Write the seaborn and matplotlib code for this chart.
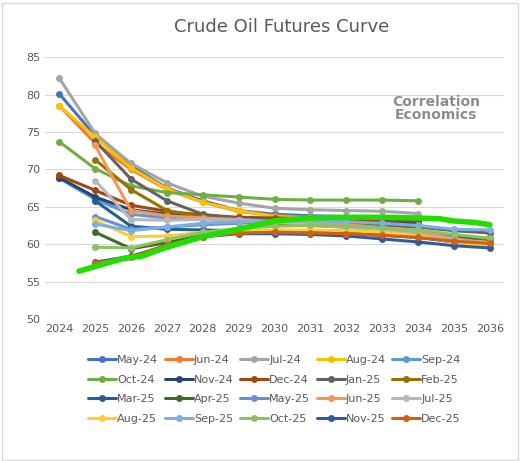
import numpy as np
import matplotlib.pyplot as plt
import seaborn as sns

years = list(range(2024, 2037))

# futures curves by contract month (None = no data)
N = None
may24 = [80.1, 74.5, 70.5, 67.5, 65.8, 64.5, 64.0, 63.8, 63.7, 63.6, 63.5, N, N]
jun24 = [78.5, 73.5, 70.0, 67.3, 65.6, 64.4, 63.8, 63.6, 63.5, 63.4, 63.3, N, N]
jul24 = [82.2, 74.8, 70.8, 68.2, 66.4, 65.5, 64.8, 64.6, 64.5, 64.4, 64.1, N, N]
aug24 = [78.5, 74.3, 70.2, 67.4, 65.6, 64.5, 63.7, 63.5, 63.4, 63.3, 63.2, N, N]
sep24 = [68.8, 66.0, 64.0, 63.5, 63.3, 63.2, 63.1, 63.1, 63.1, 63.0, 62.8, N, N]
oct24 = [73.7, 70.1, 67.8, 66.9, 66.6, 66.3, 66.0, 65.9, 65.9, 65.9, 65.8, N, N]
nov24 = [68.9, 66.3, 64.6, 64.0, 63.6, 63.4, 63.2, 63.2, 63.1, 63.0, 62.9, N, N]
dec24 = [69.2, 67.2, 65.2, 64.4, 63.9, 63.6, 63.5, 63.4, 63.3, 63.2, 63.1, N, N]
jan25 = [N, 73.8, 68.7, 65.8, 64.0, 63.4, 63.2, 62.9, 62.7, 62.5, 62.3, 61.8, 61.5]
feb25 = [N, 71.3, 67.3, 64.5, 63.6, 63.1, 62.7, 62.5, 62.3, 62.0, 61.6, 61.0, 60.6]
mar25 = [N, 65.8, 62.4, 62.0, 61.9, 61.8, 61.7, 61.6, 61.4, 61.2, 60.9, 60.3, 60.0]
apr25 = [N, 61.6, 59.4, 60.2, 61.2, 61.6, 61.8, 61.8, 61.7, 61.6, 61.3, 61.0, 60.8]
may25 = [N, 63.7, 62.0, 62.3, 62.6, 62.8, 63.0, 62.9, 62.6, 62.2, 61.7, 60.8, 60.0]
jun25 = [N, 73.2, 64.5, 63.8, 63.5, 63.3, 63.0, 62.8, 62.6, 62.2, 61.7, 60.7, 60.1]
jul25 = [N, 68.5, 63.3, 63.2, 63.3, 63.2, 63.0, 62.6, 62.2, 61.8, 61.3, 60.5, 60.0]
aug25 = [N, 63.2, 61.0, 61.1, 61.6, 61.8, 61.9, 61.9, 61.8, 61.6, 61.1, 60.3, 59.8]
sep25 = [N, 62.7, 61.8, 62.3, 62.8, 63.0, 63.1, 63.1, 63.0, 62.8, 62.5, 62.0, 61.9]
oct25 = [N, 59.6, 59.5, 60.6, 61.6, 62.1, 62.4, 62.5, 62.4, 62.2, 61.9, 61.3, 60.8]
nov25 = [N, 57.6, 58.4, 59.8, 61.0, 61.4, 61.4, 61.3, 61.1, 60.7, 60.3, 59.8, 59.5]
dec25 = [N, 57.5, 58.3, 59.9, 61.0, 61.5, 61.6, 61.5, 61.4, 61.2, 60.9, 60.4, 60.1]

# latest curve (thick green, not in legend)
latest_x = [2024.55, 2025.2, 2025.8, 2026.3, 2027.0, 2028.0, 2029.0, 2030.0, 2031.0,
            2032.0, 2033.0, 2034.0, 2034.6, 2035.0, 2035.6, 2036.0]
latest_y = [56.4, 57.3, 58.1, 58.4, 59.6, 61.0, 62.0, 63.1, 63.5, 63.6, 63.6, 63.5,
            63.4, 63.1, 62.9, 62.6]

series = [
    ("May-24", may24, "#4472C4"), ("Jun-24", jun24, "#ED7D31"),
    ("Jul-24", jul24, "#A5A5A5"), ("Aug-24", aug24, "#FFC000"),
    ("Sep-24", sep24, "#5B9BD5"), ("Oct-24", oct24, "#70AD47"),
    ("Nov-24", nov24, "#264478"), ("Dec-24", dec24, "#9E480E"),
    ("Jan-25", jan25, "#636363"), ("Feb-25", feb25, "#997300"),
    ("Mar-25", mar25, "#255E91"), ("Apr-25", apr25, "#43682B"),
    ("May-25", may25, "#698ED0"), ("Jun-25", jun25, "#F1975A"),
    ("Jul-25", jul25, "#B7B7B7"), ("Aug-25", aug25, "#FFCD33"),
    ("Sep-25", sep25, "#7CAFDD"), ("Oct-25", oct25, "#8CC168"),
    ("Nov-25", nov25, "#335AA1"), ("Dec-25", dec25, "#D26012"),
]

sns.set_style("white")
fig = plt.figure(figsize=(5.22, 4.61), dpi=100)
ax = fig.add_axes([0.086, 0.308, 0.88, 0.568])

for name, vals, col in series:
    y = np.array([np.nan if v is None else v for v in vals], dtype=float)
    sns.lineplot(x=years, y=y, ax=ax, color=col, lw=2.2, marker="o", ms=5,
                 markeredgewidth=0, label=name, legend=False)
sns.lineplot(x=latest_x, y=latest_y, ax=ax, color="#22DD00", lw=4, legend=False)

ax.set_xlim(2023.6, 2036.4)
ax.set_ylim(50, 85)
ax.set_yticks(range(50, 86, 5))
ax.set_xticks(years)
ax.tick_params(labelsize=8, colors="#595959", length=0)
ax.grid(axis="y", color="#D9D9D9", lw=0.8)
for s in ax.spines.values():
    s.set_visible(False)
ax.set_xlabel("")
ax.set_ylabel("")

fig.text(0.54, 0.93, "Crude Oil Futures Curve", ha="center", fontsize=13, color="#595959")
fig.text(0.835, 0.765, "Correlation\nEconomics", ha="center", va="center", fontsize=10,
         color="#8C8C8C", fontweight="bold", linespacing=0.95)

# legend filled row by row, 5 per row
handles = ax.get_lines()[:len(series)]
labels = [s[0] for s in series]
ncol, nrow = 5, 4
order = [r * ncol + c for c in range(ncol) for r in range(nrow)]
ax.legend([handles[i] for i in order], [labels[i] for i in order],
          loc="upper center", bbox_to_anchor=(0.5, -0.1), ncol=ncol, frameon=False,
          fontsize=8, labelcolor="#595959", handlelength=2.5, handletextpad=0.1,
          columnspacing=0.6, labelspacing=0.85)

fig.patches.append(plt.Rectangle((0.003, 0.003), 0.99, 0.99, transform=fig.transFigure,
                                 fill=False, edgecolor="#D9D9D9", lw=1))
fig.savefig("out.png", dpi=100)
